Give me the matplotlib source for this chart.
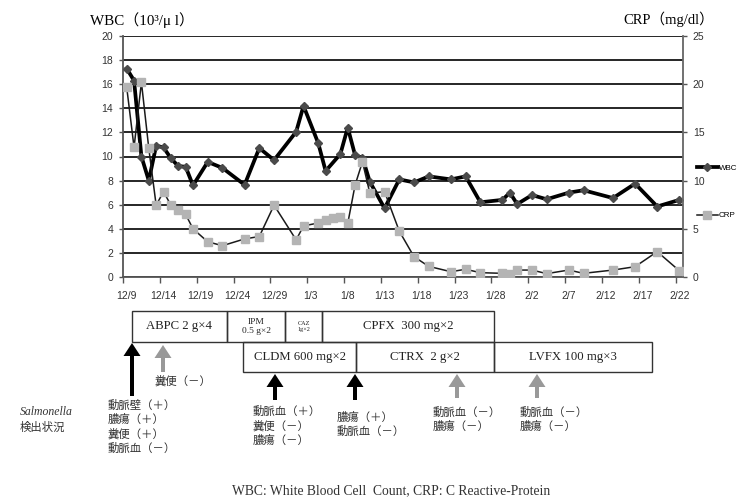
import matplotlib
matplotlib.use("Agg")
import matplotlib.pyplot as plt
from matplotlib.patches import Rectangle, FancyArrow

plt.rcParams['font.family'] = ['Liberation Sans', 'DejaVu Sans']

# days counted from 12/9
wbc_days = [0, 1, 2, 3, 4, 5, 6, 7, 8, 9, 11, 13, 16, 18, 20, 23, 24, 26, 27, 29,
            30, 31, 32, 33, 35, 37, 39, 41, 44, 46, 48, 51, 52, 53, 55, 57, 60, 62,
            66, 69, 72, 75]
wbc = [17.3, 16.3, 10.0, 8.0, 10.9, 10.75, 9.85, 9.2, 9.15, 7.6, 9.55, 9.05, 7.65,
       10.7, 9.7, 12.05, 14.2, 11.1, 8.8, 10.2, 12.4, 10.1, 9.9, 7.9, 5.7, 8.1, 7.85,
       8.35, 8.1, 8.35, 6.2, 6.4, 7.0, 6.05, 6.8, 6.45, 7.0, 7.2, 6.55, 7.75, 5.85, 6.4]

crp_days = [0, 1, 2, 3, 4, 5, 6, 7, 8, 9, 11, 13, 16, 18, 20, 23, 24, 26, 27, 28,
            29, 30, 31, 32, 33, 35, 37, 39, 41, 44, 46, 48, 51, 52, 53, 55, 57, 60,
            62, 66, 69, 72, 75]
crp = [19.7, 13.45, 20.2, 13.35, 7.45, 8.85, 7.45, 6.95, 6.5, 5.0, 3.65, 3.25, 3.95,
       4.2, 7.45, 3.85, 5.3, 5.6, 5.9, 6.1, 6.2, 5.55, 9.55, 11.95, 8.7, 8.85, 4.75,
       2.1, 1.1, 0.55, 0.8, 0.45, 0.38, 0.3, 0.72, 0.72, 0.35, 0.72, 0.38, 0.72, 1.07,
       2.63, 0.65]

date_labels = ['12/9', '12/14', '12/19', '12/24', '12/29', '1/3', '1/8', '1/13',
               '1/18', '1/23', '1/28', '2/2', '2/7', '2/12', '2/17', '2/22']

# treatment boxes: row 1 and row 2
row1_drugs = ['ABPC 2 g×4', 'IPM\n0.5 g×2', 'CAZ\n1g×2', 'CPFX  300 mg×2']
row2_drugs = ['CLDM 600 mg×2', 'CTRX  2 g×2', 'LVFX 100 mg×3']

# culture results under the arrows
results = [
    ['動脈壁（＋）', '膿瘍（＋）', '糞便（＋）', '動脈血（－）'],
    ['動脈血（＋）', '糞便（－）', '膿瘍（－）'],
    ['膿瘍（＋）', '動脈血（－）'],
    ['動脈血（－）', '膿瘍（－）'],
    ['動脈血（－）', '膿瘍（－）'],
]

W, H = 742, 497
fig = plt.figure(figsize=(W / 100, H / 100), dpi=100)
ax = fig.add_axes([123 / W, 1 - 277 / H, 560 / W, 241 / H])
ax2 = ax.twinx()

gridc = '#262626'
ax.set_ylim(0, 20)
ax.set_yticks(range(0, 21, 2))
ax.yaxis.grid(True, color=gridc, lw=1.4)
ax.set_axisbelow(True)
ax.set_xlim(0, 76)

xs_w = [d + 0.5 for d in wbc_days]
xs_c = [d + 0.5 for d in crp_days]
l1, = ax.plot(xs_w, wbc, color='black', lw=2.7, marker='D', ms=4,
              mfc='#4a4a4a', mec='#4a4a4a', zorder=3, label='WBC')
ax2.set_ylim(0, 25)
ax2.set_yticks(range(0, 26, 5))
l2, = ax2.plot(xs_c, crp, color='#1a1a1a', lw=1.1, marker='s', ms=6,
               mfc='#b4b4b4', mec='#b4b4b4', zorder=4, label='CRP')

ax.set_xticks([5 * i + 0.5 for i in range(len(date_labels))])
ax.set_xticklabels(date_labels)
ax.set_xticks([5 * i for i in range(len(date_labels))], minor=True)
ax.tick_params(axis='x', which='major', length=0, pad=10, labelsize=7.5, colors='#333')
ax.tick_params(axis='x', which='minor', length=4, width=1, color='#555', direction='out')
ax.tick_params(axis='y', length=3, width=1, color='#555', pad=4, labelsize=7.5,
               labelcolor='#333')
ax2.tick_params(axis='y', length=3, width=1, color='#555', pad=4, labelsize=7.5,
                labelcolor='#333')

for a in (ax, ax2):
    a.spines['top'].set_visible(False)
for s in ('left', 'bottom'):
    ax.spines[s].set_color('#555')
    ax.spines[s].set_linewidth(1.3)
ax.spines['right'].set_visible(False)
ax2.spines['left'].set_visible(False)
ax2.spines['bottom'].set_visible(False)
ax2.spines['right'].set_color('#666')
ax2.spines['right'].set_linewidth(1.3)

fig.legend(handles=[l1, l2], loc='center left', bbox_to_anchor=(697 / W, 1 - 192 / H),
           frameon=False, fontsize=5.8, labelspacing=4.9, handlelength=2.6,
           handletextpad=0.1, borderpad=0, borderaxespad=0)

serif = ['Liberation Serif', 'Noto Sans CJK JP']
fig.text(90 / W, 1 - 20 / H, 'WBC（10³/μ l）', family=serif, fontsize=10.8,
         va='center', ha='left')
fig.text(714 / W, 1 - 19 / H, 'CRP（mg/dl）', family=serif, fontsize=10.5,
         va='center', ha='right')

# overlay in pixel coordinates for the treatment chart below
ov = fig.add_axes([0, 0, 1, 1])
ov.set_xlim(0, W)
ov.set_ylim(H, 0)
ov.axis('off')

row1_edges = [132, 227, 285, 322, 494]
row2_edges = [243, 356, 494, 652]
row1_sizes = [9.2, 6.8, 4.5, 9.2]
for i, name in enumerate(row1_drugs):
    x0, x1 = row1_edges[i], row1_edges[i + 1]
    ov.add_patch(Rectangle((x0, 311), x1 - x0, 31, fill=False, ec='#333', lw=1))
    ov.text((x0 + x1) / 2, 326.5, name, family=serif, fontsize=row1_sizes[i],
            ha='center', va='center', linespacing=1.1, color='#222')
for i, name in enumerate(row2_drugs):
    x0, x1 = row2_edges[i], row2_edges[i + 1]
    ov.add_patch(Rectangle((x0, 342), x1 - x0, 30, fill=False, ec='#333', lw=1))
    ov.text((x0 + x1) / 2, 357, name, family=serif, fontsize=9.2,
            ha='center', va='center', color='#222')

def arrow(x, base, tip, color):
    ov.add_patch(FancyArrow(x, base, 0, tip - base, width=4, head_width=17,
                            head_length=13, length_includes_head=True,
                            color=color, lw=0))

arrow(132, 396, 343, 'black')
arrow(163, 372, 345, '#999999')
arrow(275, 400, 374, 'black')
arrow(355, 400, 374, 'black')
arrow(457, 398, 374, '#999999')
arrow(537, 398, 374, '#999999')

jp = ['Noto Sans CJK JP', 'DejaVu Sans']
ov.text(155, 381, '糞便（－）', family=jp, fontsize=8.2, ha='left', va='center', color='#333')

res_pos = [(108, 405), (253, 411), (337, 417), (433, 412), (520, 412)]
for (x0, y0), lines in zip(res_pos, results):
    for k, line in enumerate(lines):
        ov.text(x0, y0 + 14.5 * k, line, family=jp, fontsize=8.2, ha='left',
                va='center', color='#333')

ov.text(20, 412, 'Salmonella', family='Liberation Serif', style='italic',
        fontsize=8.5, ha='left', va='center', color='#333')
ov.text(20, 427, '検出状況', family=jp, fontsize=8.2, ha='left', va='center', color='#333')

ov.text(391, 491, 'WBC: White Blood Cell  Count, CRP: C Reactive-Protein',
        family='Liberation Serif', fontsize=9.8, ha='center', va='center', color='#333')

fig.savefig('out.png', dpi=100)
